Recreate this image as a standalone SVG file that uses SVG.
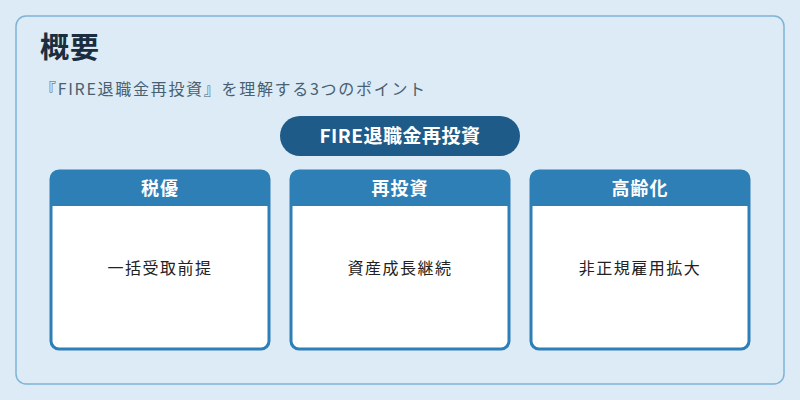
<svg xmlns="http://www.w3.org/2000/svg" width="800" height="400" viewBox="0 0 800 400">
<style>
.t{font-family:"Noto Sans CJK JP","Noto Sans",sans-serif}
.card{fill:#fff;stroke:#2e7fb5;stroke-width:3}
.hd{fill:#2e7fb5}
.ht{font-size:18px;font-weight:bold;fill:#fff;text-anchor:middle;letter-spacing:1px}
.bt{font-size:16px;fill:#222;text-anchor:middle;letter-spacing:1.5px}
</style>
<rect width="800" height="400" fill="#dcebf6"/>
<rect x="16" y="16" width="768" height="368" rx="10" fill="#dcebf6" stroke="#7fb4d6" stroke-width="1.5"/>
<text class="t" x="40" y="58" font-size="29" font-weight="bold" fill="#1a2e40" letter-spacing="1">概要</text>
<text class="t" x="40" y="95" font-size="16" fill="#4a5f70" letter-spacing="1.7">『FIRE退職金再投資』を理解する3つのポイント</text>
<g id="root"><rect x="280" y="116" width="240" height="40" rx="20" fill="#1f5b88"/><text class="t ht" x="400" y="143" style="font-size:19px;letter-spacing:0.5px">FIRE退職金再投資</text></g>
<g id="n1"><rect class="card" x="51" y="171" width="218" height="178" rx="8"/><path class="hd" d="M51 206V179a8 8 0 0 1 8-8h202a8 8 0 0 1 8 8v27z"/><text class="t ht" x="160" y="195">税優</text><text class="t bt" x="160" y="274">一括受取前提</text></g>
<g id="n2"><rect class="card" x="291" y="171" width="218" height="178" rx="8"/><path class="hd" d="M291 206V179a8 8 0 0 1 8-8h202a8 8 0 0 1 8 8v27z"/><text class="t ht" x="400" y="195">再投資</text><text class="t bt" x="400" y="274">資産成長継続</text></g>
<g id="n3"><rect class="card" x="531" y="171" width="218" height="178" rx="8"/><path class="hd" d="M531 206V179a8 8 0 0 1 8-8h202a8 8 0 0 1 8 8v27z"/><text class="t ht" x="640" y="195">高齢化</text><text class="t bt" x="640" y="274">非正規雇用拡大</text></g>
<g id="connectors"/>
</svg>
